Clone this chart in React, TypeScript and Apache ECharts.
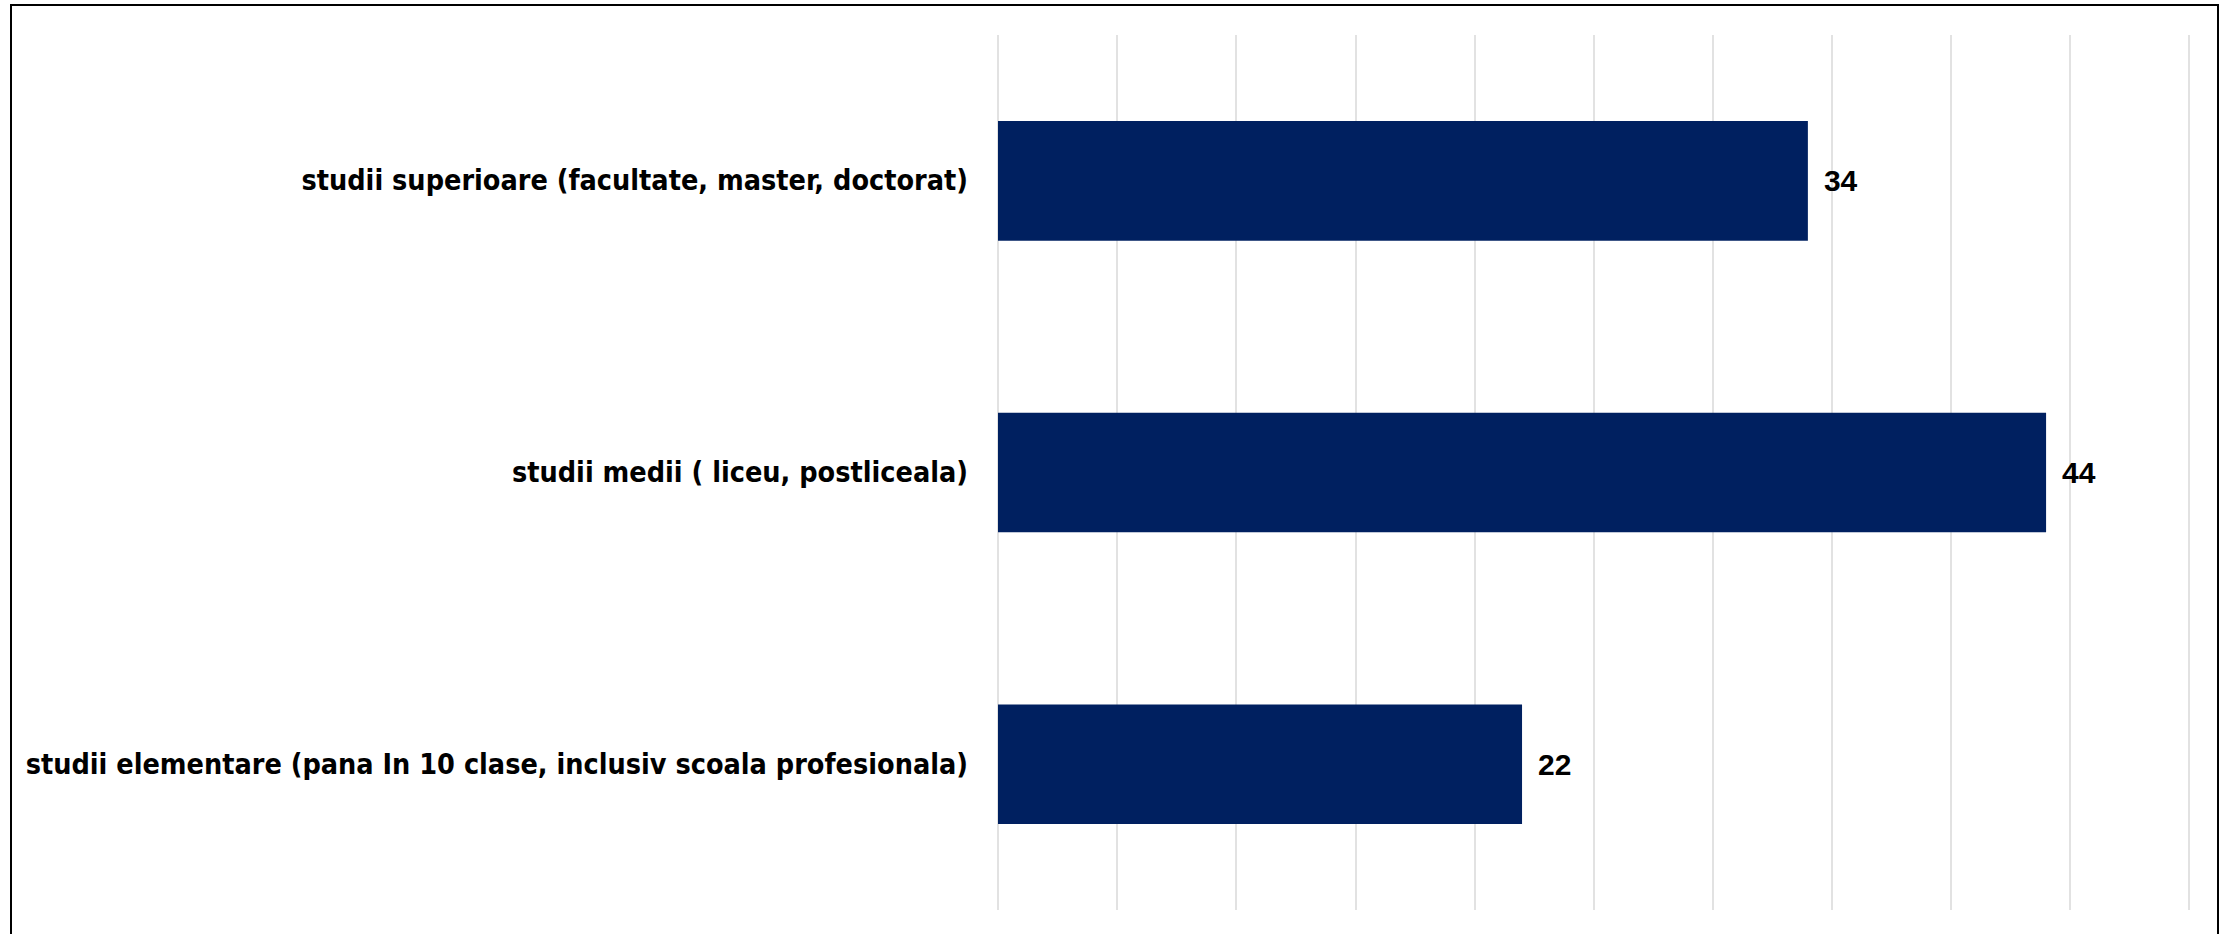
import React, { useEffect, useRef } from "react";
import * as echarts from "echarts";

const categories: string[] = [
  "studii superioare (facultate, master, doctorat)",
  "studii medii ( liceu, postliceala)",
  "studii elementare (pana In 10 clase, inclusiv scoala profesionala)",
];
const values: number[] = [34, 44, 22];
const axisMin = 0;
const axisMax = 50;
const axisInterval = 5;

export default function App() {
  const ref = useRef<HTMLDivElement>(null);
  useEffect(() => {
    if (!ref.current) return;
    const chart = echarts.init(ref.current, undefined, { renderer: "svg" });
    chart.setOption({
      animation: false,
      backgroundColor: "#ffffff",
      grid: {
        left: 998,
        right: 42,
        top: 35,
        bottom: 24,
        containLabel: false,
        outerBoundsMode: "none",
      },
      xAxis: {
        type: "value",
        min: axisMin,
        max: axisMax,
        interval: axisInterval,
        axisLabel: { show: false },
        axisLine: { show: false },
        axisTick: { show: false },
        splitLine: { show: true, lineStyle: { color: "#d9d9d9", width: 1.5 } },
      },
      yAxis: {
        type: "category",
        data: categories,
        inverse: true,
        axisLine: { show: false },
        axisTick: { show: false },
        axisLabel: {
          margin: 30,
          color: "#000000",
          fontFamily: "'DejaVu Sans Condensed', 'Liberation Sans', sans-serif",
          fontWeight: "bold",
          fontSize: 28.5,
        },
      },
      series: [
        {
          type: "bar",
          data: values,
          barCategoryGap: "59%",
          itemStyle: { color: "#002060" },
          label: {
            show: true,
            position: "right",
            distance: 16,
            color: "#000000",
            fontFamily: "'Liberation Sans', Arial, sans-serif",
            fontWeight: "bold",
            fontSize: 30,
          },
        },
      ],
      graphic: [
        {
          type: "rect",
          shape: { x: 11, y: 5, width: 2207, height: 1000 },
          style: { fill: "none", stroke: "#000000", lineWidth: 2 },
          silent: true,
        },
      ],
    });
    return () => chart.dispose();
  }, []);
  return (
    <div
      ref={ref}
      style={{ position: "absolute", left: 0, top: 0, width: 2231, height: 934 }}
    />
  );
}
